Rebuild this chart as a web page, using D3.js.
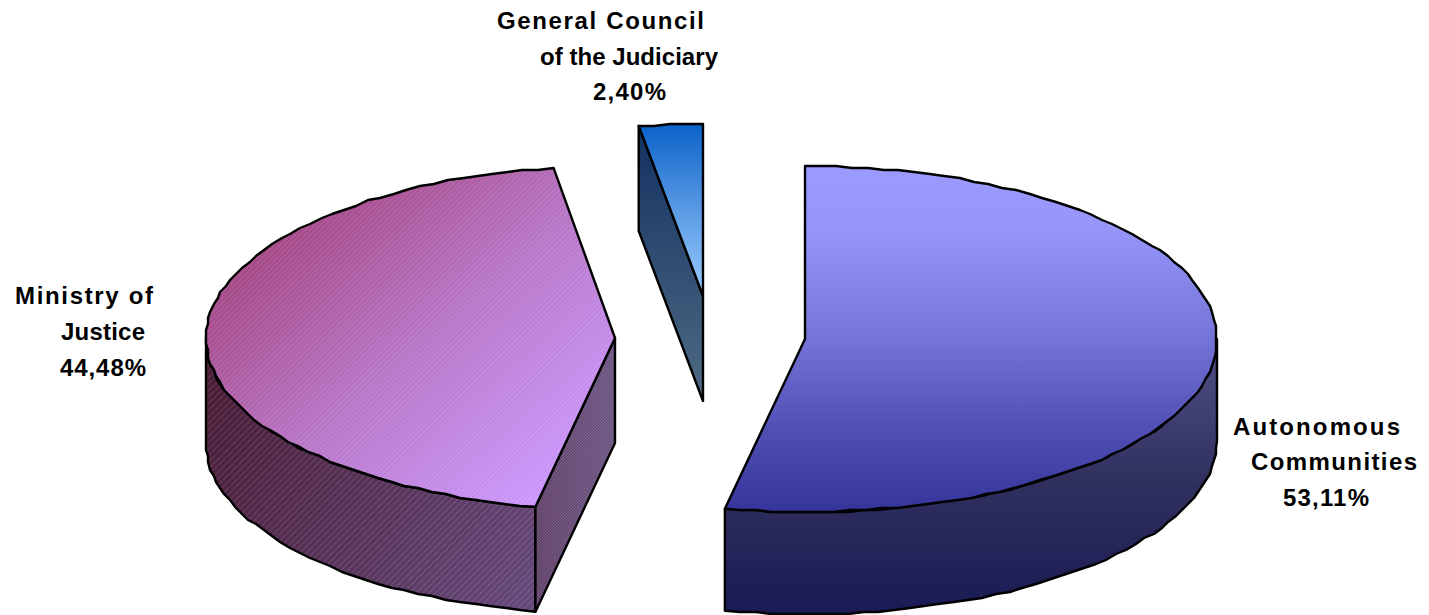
<!DOCTYPE html>
<html><head><meta charset="utf-8">
<script src="https://cdn.jsdelivr.net/npm/d3@7"></script>
<style>html,body{margin:0;padding:0;background:#fff}svg{display:block}
text{font-family:"Liberation Sans",Arial,sans-serif;font-weight:700;font-size:24px;fill:#000}</style>
</head><body><svg id="c" width="1429" height="615"></svg>
<script>
const categories = ["Autonomous Communities", "Ministry of Justice", "General Council of the Judiciary"];
const shares = [53.11, 44.48, 2.40];
const shareLabels = ["53,11%", "44,48%", "2,40%"];
const labelLines = [["Autonomous", "Communities"], ["Ministry of", "Justice"], ["General Council", "of the Judiciary"]];

const svg = d3.select("#c"), defs = svg.append("defs");
const quant = 2, stepDeg = 2.2;

// placement of each exploded slice and its shading
const look = [
 {cx:805, cy:339, rx:412, ry:173, depth:102, topFill:"gA", wallFill:"wA"},
 {cx:615, cy:338, rx:409, ry:172, depth:105, topFill:"gM", wallFill:"wM", cutFill:"cM", hatch:true},
 {cx:703, cy:296, rx:428, ry:172, depth:105, topFill:"gG", cutFill:"cG"}
];
const labelPlace = [
 [[1233,435,167],[1251,470,166],[1283,506,86]],
 [[15,304,138],[61,340,84],[60,376,86]],
 [[497,29,207],[540,65,178],[593,100,73]]
];

function grad(id, x1,y1,x2,y2, stops){
  const g = defs.append("linearGradient").attr("id",id).attr("gradientUnits","userSpaceOnUse")
    .attr("x1",x1).attr("y1",y1).attr("x2",x2).attr("y2",y2);
  stops.forEach(s=>g.append("stop").attr("offset",s[0]).attr("stop-color",s[1]));
}
grad("gA",0,166,0,514,[[0,"#9a9aff"],[.18,"#9595fa"],[.5,"#7474d6"],[.75,"#5050b5"],[1,"#333399"]]);
grad("wA",0,345,0,615,[[0,"#4f4f86"],[.5,"#30305f"],[1,"#1a1a55"]]);
grad("gM",300,190,560,490,[[0,"#a3437f"],[.5,"#b877c8"],[1,"#cc99ff"]]);
grad("wM",210,400,540,610,[[0,"#4a1e38"],[1,"#66497c"]]);
grad("cM",537,0,615,0,[[0,"#5f3f68"],[1,"#6a5180"]]);
grad("gG",0,124,0,296,[[0,"#0a62c8"],[.5,"#5a9ae4"],[1,"#99ccff"]]);
grad("cG",0,124,0,401,[[0,"#123060"],[1,"#4f6b84"]]);

function hatch(id, gap, op){
  const p = defs.append("pattern").attr("id",id).attr("patternUnits","userSpaceOnUse")
    .attr("width",gap).attr("height",gap).attr("patternTransform","rotate(-45)");
  p.append("line").attr("x1",0).attr("y1",0).attr("x2",gap).attr("y2",0)
    .attr("stroke","#fff").attr("stroke-opacity",op).attr("stroke-width",1.3);
}
hatch("hTop",3.6,.16); hatch("hWall",4.6,.2); hatch("hCut",2.2,.2);

const pie = d3.pie().sort(null).value(d=>d).startAngle(0).endAngle(2*Math.PI);
const arcs = pie(shares);
const line = d3.line();
const q = v => Math.round(v/quant)*quant;

function pts(l, a0, a1, dz){
  const sx = d3.scaleLinear().domain([-1,1]).range([l.cx-l.rx,l.cx+l.rx]);
  const sy = d3.scaleLinear().domain([-1,1]).range([l.cy+l.ry+dz,l.cy-l.ry+dz]);
  const P = a=>[sx(Math.sin(a)), sy(Math.cos(a))];
  const n = Math.max(1,Math.ceil((a1-a0)/(stepDeg*Math.PI/180)));
  return d3.range(n+1).map(i=>{
    const p = P(a0+(a1-a0)*i/n);
    return (i===0||i===n)?p:[q(p[0]),q(p[1])];
  });
}
const PI=Math.PI;
function mark(d, fill, overlay){
  svg.append("path").attr("d",d).attr("fill",`url(#${fill})`).attr("stroke","none");
  if(overlay) svg.append("path").attr("d",d).attr("fill",`url(#${overlay})`).attr("stroke","none");
  svg.append("path").attr("d",d).attr("fill","none").attr("stroke","#000")
    .attr("stroke-width",2.4).attr("stroke-linejoin","round");
}
arcs.forEach((a,i)=>{
  const l = look[i];
  const depth = l.depth;
  // outer wall (front half only)
  const w0=Math.max(a.startAngle,PI/2), w1=Math.min(a.endAngle,3*PI/2);
  if(w1>w0 && l.wallFill){
    const top=pts(l,w0,w1,0), bot=pts(l,w0,w1,depth).reverse();
    mark(line(top.concat(bot))+"Z", l.wallFill, l.hatch?"hWall":null);
  }
  // cut face on the start radius
  if(a.startAngle>=PI && l.cutFill){
    const e=pts(l,a.startAngle,a.startAngle,0)[0];
    const poly=[[l.cx,l.cy],e,[e[0],e[1]+depth],[l.cx,l.cy+depth]];
    mark(line(poly)+"Z", l.cutFill, l.hatch?"hCut":null);
  }
  // top face
  const rim=pts(l,a.startAngle,a.endAngle,0);
  mark(line([[l.cx,l.cy]].concat(rim))+"Z", l.topFill, l.hatch?"hTop":null);
  // label
  labelLines[i].concat([shareLabels[i]]).forEach((t,k)=>{
    const [x,y,w]=labelPlace[i][k];
    svg.append("text").attr("x",x).attr("y",y).attr("textLength",w).attr("lengthAdjust","spacing").text(t);
  });
});
</script></body></html>
